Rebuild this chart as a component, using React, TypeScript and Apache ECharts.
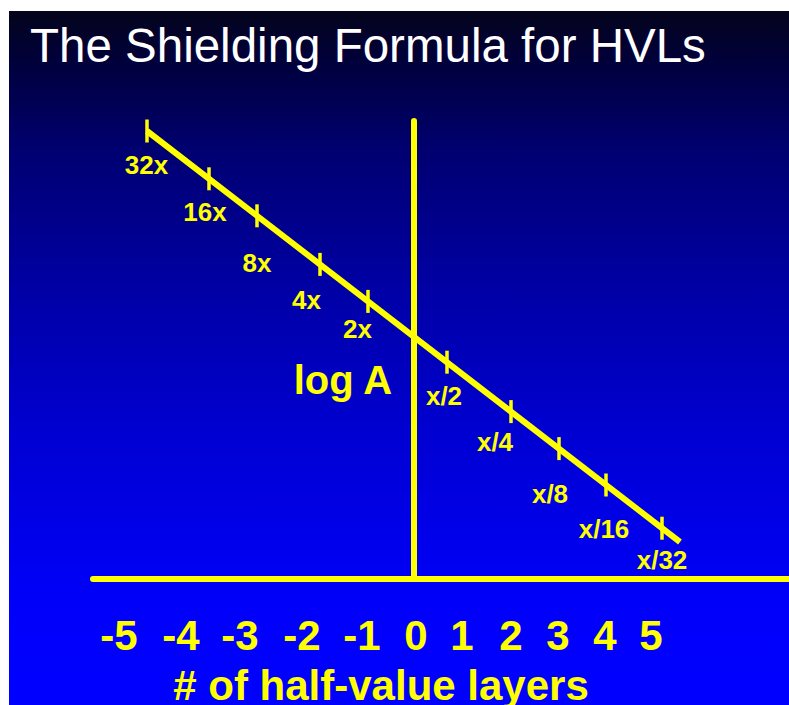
import { useEffect, useRef } from 'react';
import * as echarts from 'echarts';

// ---- texts ----
const titleText = 'The Shielding Formula for HVLs';
const xAxisName = '# of half-value layers';
const yAxisName = 'log A';

// ---- x axis tick labels (positions, in axis units) ----
const xTickValues = [-5.9, -4.66, -3.48, -2.24, -1.04, 0.04, 0.96, 1.94, 2.88, 3.82, 4.74];
const xTickLabels = ['-5', '-4', '-3', '-2', '-1', '0', '1', '2', '3', '4', '5'];

// ---- y axis name position (axis units) ----
const yAxisNameX = [-1.42];
const yAxisNameY = [-1.075];

// ---- attenuation line end points ----
const lineX = [-5.34, 5.32];
const lineY = [5.15, -5.125];

// ---- HVL tick marks on the line ----
const hvlTickX = [-5.34, -4.1, -3.14, -1.88, -0.92, 0.66, 1.94, 2.9, 3.84, 4.96];
const hvlTickY = [5.15, 3.955, 3.03, 1.815, 0.89, -0.63, -1.865, -2.79, -3.7, -4.78];

// ---- factor labels beside the ticks ----
const factorLabels = ['32x', '16x', '8x', '4x', '2x', 'x/2', 'x/4', 'x/8', 'x/16', 'x/32'];
const factorLabelX = [-5.35, -4.18, -3.14, -2.15, -1.13, 0.6, 1.62, 2.72, 3.8, 4.96];
const factorLabelY = [4.3, 3.125, 1.85, 0.925, 0.2, -1.475, -2.625, -3.925, -4.8, -5.575];

// ---- axis ranges ----
const xRange = [-6.42, 7.5];
const yRange = [-6.05, 5.4];

const YELLOW = '#ffff00';
const FONT = '"Liberation Sans", Arial, Helvetica, sans-serif';

export default function App() {
  const ref = useRef<HTMLDivElement>(null);

  useEffect(() => {
    if (!ref.current) return;
    const chart = echarts.init(ref.current, null, { renderer: 'svg' });
    chart.setOption({
      animation: false,
      backgroundColor: '#ffffff',
      title: {
        text: titleText,
        left: 30,
        top: 21,
        padding: 0,
        textStyle: { color: '#ffffff', fontSize: 47.5, fontWeight: 'normal', fontFamily: FONT },
      },
      graphic: [
        {
          type: 'rect',
          z: -10,
          silent: true,
          shape: { x: 9, y: 11, width: 780, height: 694 },
          style: {
            fill: new echarts.graphic.LinearGradient(0, 0, 0, 1, [
              { offset: 0, color: '#04041c' },
              { offset: 0.08, color: '#00003e' },
              { offset: 0.2, color: '#000070' },
              { offset: 0.4, color: '#0000a5' },
              { offset: 0.6, color: '#0000d0' },
              { offset: 0.85, color: '#0000fa' },
              { offset: 1, color: '#0000ff' },
            ]),
          },
        },
      ],
      grid: { left: 93, right: 0, top: 121, bottom: 126, outerBoundsMode: 'none' },
      xAxis: {
        type: 'value',
        min: xRange[0],
        max: xRange[1],
        name: xAxisName,
        nameLocation: 'middle',
        nameGap: 85,
        nameTextStyle: {
          color: YELLOW,
          fontSize: 42,
          fontWeight: 'bold',
          fontFamily: FONT,
          padding: [0, 120, 0, 0],
        },
        axisLine: { show: true, onZero: false, lineStyle: { color: YELLOW, width: 6 } },
        axisTick: { show: false },
        splitLine: { show: false },
        axisLabel: {
          show: true,
          customValues: xTickValues,
          margin: 35,
          color: YELLOW,
          fontSize: 42,
          fontWeight: 'bold',
          fontFamily: FONT,
          formatter: (v: number) => {
            const i = xTickValues.findIndex((t) => Math.abs(t - v) < 1e-6);
            return i >= 0 ? xTickLabels[i] : '';
          },
        },
      },
      yAxis: {
        type: 'value',
        min: yRange[0],
        max: yRange[1],
        axisLine: { show: true, onZero: true, lineStyle: { color: YELLOW, width: 6 } },
        axisTick: { show: false },
        axisLabel: { show: false },
        splitLine: { show: false },
      },
      series: [
        {
          type: 'line',
          data: lineX.map((x, i) => [x, lineY[i]]),
          symbol: 'none',
          showSymbol: false,
          silent: true,
          lineStyle: { color: YELLOW, width: 6, opacity: 1 },
          z: 3,
        },
        {
          type: 'scatter',
          symbol: 'rect',
          symbolSize: [3.5, 23],
          silent: true,
          itemStyle: { color: YELLOW, opacity: 1 },
          data: hvlTickX.map((x, i) => [x, hvlTickY[i]]),
          z: 4,
        },
        {
          type: 'scatter',
          symbolSize: 1,
          silent: true,
          itemStyle: { color: YELLOW, opacity: 0 },
          label: {
            show: true,
            position: 'inside',
            formatter: '{b}',
            color: YELLOW,
            opacity: 1,
            fontSize: 26,
            fontWeight: 'bold',
            fontFamily: FONT,
          },
          data: factorLabelX.map((x, i) => ({ name: factorLabels[i], value: [x, factorLabelY[i]] })),
          z: 5,
        },
        {
          type: 'scatter',
          symbolSize: 1,
          silent: true,
          itemStyle: { color: YELLOW, opacity: 0 },
          label: {
            show: true,
            position: 'inside',
            formatter: '{b}',
            color: YELLOW,
            opacity: 1,
            fontSize: 40,
            fontWeight: 'bold',
            fontFamily: FONT,
          },
          data: yAxisNameX.map((x, i) => ({ name: yAxisName, value: [x, yAxisNameY[i]] })),
          z: 5,
        },
      ],
    });
    return () => chart.dispose();
  }, []);

  return (
    <div
      ref={ref}
      style={{ position: 'absolute', left: 0, top: 0, width: 789, height: 705 }}
    />
  );
}
